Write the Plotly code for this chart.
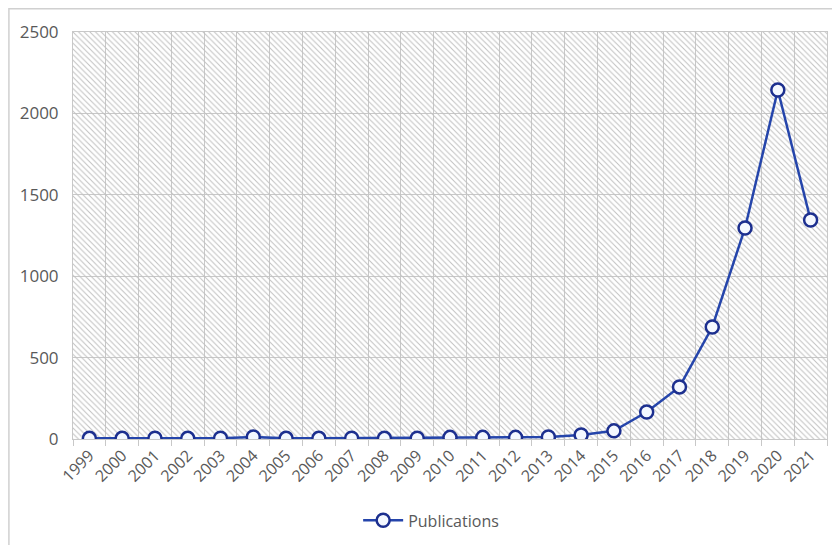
import plotly.graph_objects as go

years = [str(y) for y in range(1999, 2022)]
publications = [4, 4, 5, 4, 5, 12, 4, 4, 5, 4, 5, 10, 10, 10, 12, 25, 50, 166, 320, 688, 1296, 2144, 1345]

y_max = 2500
font_family = "Open Sans, Noto Sans, sans-serif"
text_color = "#595959"
grid_color = "#c8c8c8"

fig = go.Figure()

# hatched plot background
fig.add_trace(go.Bar(
    x=years, y=[y_max] * len(years), width=1,
    marker=dict(color="#c0c0c0", line=dict(width=0),
                pattern=dict(shape="\\", size=4, solidity=0.25, fillmode="replace")),
    showlegend=False, hoverinfo="skip",
))

fig.add_trace(go.Scatter(
    x=years, y=publications, mode="lines+markers", name="Publications",
    line=dict(color="#2545ab", width=2.5),
    marker=dict(symbol="circle", size=13, color="#f4f8ff",
                line=dict(color="#1c2f8f", width=2.5)),
))

fig.update_layout(
    width=840, height=545,
    margin=dict(l=65, r=21, t=24, b=114, autoexpand=False),
    paper_bgcolor="white", plot_bgcolor="white",
    bargap=0,
    font=dict(family=font_family, size=16, color=text_color),
    showlegend=True,
    legend=dict(orientation="h", x=0.475, xanchor="center", y=-0.2, yanchor="middle",
                itemwidth=40, font=dict(size=16, color=text_color)),
    xaxis=dict(type="category", tickson="boundaries", tickangle=-45, automargin=False,
               range=[-0.5, len(years) - 0.5],
               showgrid=True, gridcolor=grid_color, gridwidth=1,
               ticks="outside", ticklen=6, tickcolor=grid_color,
               showline=True, linecolor=grid_color, mirror=True,
               tickfont=dict(size=16, color=text_color)),
    yaxis=dict(range=[0, y_max], dtick=500, showgrid=True, gridcolor=grid_color,
               gridwidth=1, zeroline=False, showline=True, linecolor=grid_color,
               mirror=True, ticks="", ticklabelstandoff=10, automargin=False,
               tickfont=dict(size=17, color=text_color)),
    shapes=[dict(type="rect", xref="paper", yref="paper",
                 x0=-0.085, x1=1.05, y0=-0.3, y1=1.057,
                 line=dict(color="#d0d0d0", width=1.5), fillcolor="rgba(0,0,0,0)",
                 layer="above")],
)

fig.write_html("out.html")
